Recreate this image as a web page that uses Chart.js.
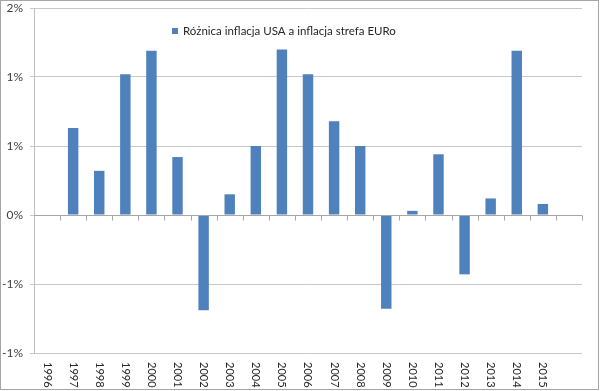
<!DOCTYPE html>
<html>
<head>
<meta charset="utf-8">
<script src="https://cdn.jsdelivr.net/npm/chart.js@4/dist/chart.umd.min.js"></script>
<style>
html,body{margin:0;padding:0;background:#fff;}
canvas{display:block;}
</style>
</head>
<body>
<canvas id="c" width="600" height="391"></canvas>
<script>
const categories = ['1996','1997','1998','1999','2000','2001','2002','2003','2004','2005','2006','2007','2008','2009','2010','2011','2012','2013','2014','2015',''];
const seriesName = 'Różnica inflacja USA a inflacja strefa EURo';
const values = [null, 0.63, 0.32, 1.02, 1.19, 0.42, -0.69, 0.15, 0.50, 1.20, 1.02, 0.68, 0.50, -0.68, 0.03, 0.44, -0.43, 0.12, 1.19, 0.08, null];
const yTickValues = [-1, -0.5, 0, 0.5, 1, 1.5];
const yTickLabels = ['-1%', '-1%', '0%', '1%', '1%', '2%'];

const FONT = 'Lato, "Open Sans", sans-serif';

const excelPlugin = {
  id: 'excelPlugin',
  afterDraw(chart) {
    const ctx = chart.ctx;
    const xs = chart.scales.x, ys = chart.scales.y;
    const area = chart.chartArea;
    const y0 = Math.round(ys.getPixelForValue(0)) + 0.5;
    ctx.save();
    ctx.strokeStyle = '#A6A6A6';
    ctx.lineWidth = 1;
    ctx.beginPath();
    ctx.moveTo(area.left, y0);
    ctx.lineTo(area.right, y0);
    for (let i = 1; i <= categories.length; i++) {
      const x = Math.round(xs.getPixelForValue(i - 0.5)) + 0.5;
      ctx.moveTo(x, y0);
      ctx.lineTo(x, y0 + 5);
    }
    ctx.stroke();
    ctx.fillStyle = '#262626';
    ctx.font = '11px ' + FONT;
    ctx.textAlign = 'left';
    ctx.textBaseline = 'middle';
    categories.forEach((lab, i) => {
      if (!lab) return;
      const x = xs.getPixelForValue(i);
      ctx.save();
      ctx.translate(x, area.bottom + 9);
      ctx.rotate(Math.PI / 2);
      ctx.fillText(lab, 0, 0);
      ctx.restore();
    });
    ctx.fillStyle = '#4F81BD';
    ctx.fillRect(172, 28, 6, 6);
    ctx.fillStyle = '#262626';
    ctx.font = '11.5px ' + FONT;
    ctx.textBaseline = 'middle';
    ctx.fillText(chart.data.datasets[0].label, 183, 31);
    ctx.strokeStyle = '#A6A6A6';
    ctx.strokeRect(0.5, 0.5, 598, 389);
    ctx.restore();
  }
};

new Chart(document.getElementById('c'), {
  type: 'bar',
  data: {
    labels: categories,
    datasets: [{
      label: seriesName,
      data: values,
      backgroundColor: '#4F81BD',
      borderWidth: 0,
      barPercentage: 0.4,
      categoryPercentage: 1.0
    }]
  },
  options: {
    responsive: false,
    animation: false,
    devicePixelRatio: 1,
    layout: { padding: { top: 8, right: 18, bottom: 38, left: 0 } },
    plugins: { legend: { display: false }, tooltip: { enabled: false } },
    scales: {
      x: {
        type: 'category',
        grid: { display: false },
        ticks: { display: false },
        border: { display: false },
        afterFit(scale) { scale.height = 0; scale.paddingLeft = 0; scale.paddingRight = 0; scale.paddingTop = 0; scale.paddingBottom = 0; }
      },
      y: {
        min: -1,
        max: 1.5,
        afterBuildTicks(scale) { scale.ticks = yTickValues.map(v => ({ value: v })); },
        ticks: {
          callback: (v, i) => yTickLabels[i],
          color: '#404040',
          font: { family: FONT, size: 12 },
          padding: 7
        },
        grid: { color: '#C8C8C8', tickLength: 4 },
        border: { color: '#BFBFBF' },
        afterFit(scale) { scale.width = 34; scale.paddingTop = 0; scale.paddingBottom = 0; }
      }
    }
  },
  plugins: [excelPlugin]
});
</script>
</body>
</html>
